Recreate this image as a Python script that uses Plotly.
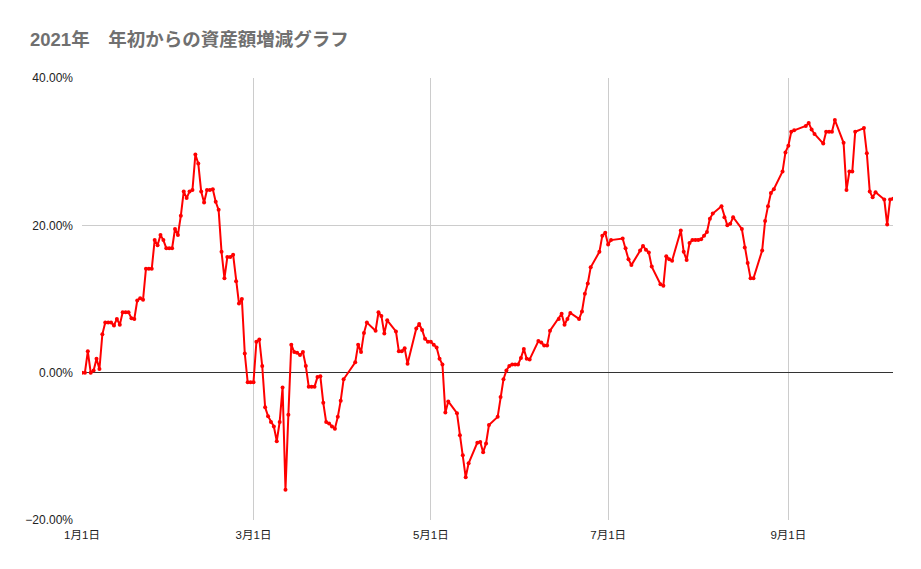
import pandas as pd
import plotly.graph_objects as go

# day offsets from 2021-01-01 and asset change (%)
DAYS = [
    0, 1, 2, 3, 4, 5, 6, 7, 8, 9, 10, 11, 12, 13, 14, 15, 16, 17, 18, 19,
    20, 21, 22, 23, 24, 25, 26, 27, 28, 29, 30, 31, 32, 33, 34, 35, 36, 37, 38, 39,
    40, 41, 42, 43, 44, 45, 46, 47, 48, 49, 50, 51, 52, 53, 54, 55, 56, 57, 58, 59,
    60, 61, 62, 63, 64, 65, 66, 67, 68, 69, 70, 71, 72, 73, 74, 75, 76, 77, 78, 79,
    80, 81, 82, 83, 84, 85, 86, 87, 88, 89, 90, 94, 95, 96, 97, 98, 101, 102, 103, 104,
    105, 108, 109, 110, 111, 112, 115, 116, 117, 118, 119, 120, 121, 122, 123, 124, 125, 126, 129, 130,
    131, 132, 133, 136, 137, 138, 139, 140, 143, 144, 145, 146, 147, 148, 149, 150, 151, 152, 153, 154,
    157, 158, 159, 160, 161, 164, 165, 166, 167, 168, 171, 172, 173, 174, 175, 178, 179, 180, 181, 182,
    186, 187, 188, 189, 192, 193, 194, 195, 196, 199, 200, 201, 202, 203, 206, 207, 208, 209, 210, 211,
    212, 213, 214, 215, 216, 217, 220, 221, 222, 223, 224, 227, 228, 229, 230, 231, 234, 235, 236, 237,
    238, 241, 242, 243, 244, 245, 249, 250, 251, 252, 255, 256, 257, 258, 259, 262, 263, 264, 265, 266,
    269, 270, 271, 272, 273, 276, 277, 278, 279,
]
CHANGE_PCT = [
    0.0, 0.0, 2.9, 0.0, 0.3, 1.9, 0.5, 5.2, 6.8, 6.8, 6.8, 6.4, 7.3, 6.5, 8.2, 8.2, 8.2, 7.4, 7.3, 9.8,
    10.1, 9.9, 14.1, 14.1, 14.1, 18.0, 17.3, 18.7, 18.0, 16.9, 16.9, 16.9, 19.5, 18.7, 21.3, 24.6, 23.7, 24.6, 24.8, 29.6,
    28.4, 24.6, 23.1, 24.8, 24.8, 24.9, 23.2, 22.1, 16.4, 12.8, 15.7, 15.7, 16.0, 12.4, 9.4, 10.0, 2.6, -1.3, -1.3, -1.3,
    4.2, 4.5, 0.9, -4.7, -5.9, -6.7, -7.3, -9.3, -6.7, -2.0, -15.9, -5.7, 3.8, 2.8, 2.7, 2.4, 2.8, 0.9, -1.9, -1.9,
    -1.9, -0.6, -0.5, -4.1, -6.7, -6.9, -7.3, -7.6, -6.0, -3.8, -0.9, 1.4, 3.8, 2.8, 5.4, 6.8, 5.7, 8.2, 7.7, 5.3,
    7.1, 5.6, 2.9, 2.9, 3.3, 1.2, 6.0, 6.6, 5.8, 4.6, 4.2, 4.2, 3.8, 3.4, 1.9, 1.1, -5.4, -3.9, -5.5, -8.5,
    -11.2, -14.2, -12.3, -9.5, -9.4, -10.8, -9.6, -7.1, -6.0, -3.3, -0.9, 0.3, 0.9, 1.1, 1.1, 1.1, 2.0, 3.2, 1.9, 1.8,
    4.3, 4.1, 3.7, 3.7, 5.7, 7.3, 8.0, 6.5, 7.3, 8.1, 7.3, 8.3, 10.7, 12.1, 14.3, 16.4, 18.6, 19.0, 17.4, 18.0,
    18.2, 16.9, 15.4, 14.6, 16.6, 17.2, 16.7, 16.3, 14.4, 12.0, 11.8, 15.8, 15.4, 15.2, 19.3, 16.4, 15.3, 17.6, 18.0, 18.0,
    18.0, 18.1, 18.6, 19.1, 20.9, 21.6, 22.6, 21.1, 20.0, 20.2, 21.1, 19.5, 17.0, 14.9, 12.8, 12.8, 16.6, 20.6, 22.6, 24.4,
    24.9, 27.3, 29.9, 30.8, 32.7, 32.9, 33.5, 33.9, 33.0, 32.4, 31.1, 32.7, 32.7, 32.7, 34.3, 31.2, 24.8, 27.3, 27.3, 32.7,
    33.2, 29.8, 24.6, 23.8, 24.5, 23.5, 20.1, 23.5, 23.6,
]
TICK_DATES = ["2021-01-01", "2021-03-01", "2021-05-01", "2021-07-01", "2021-09-01"]
TICK_LABELS = ["1月1日", "3月1日", "5月1日", "7月1日", "9月1日"]
Y_TICKS = [-0.2, 0.0, 0.2, 0.4]

dates = pd.Timestamp("2021-01-01") + pd.to_timedelta(DAYS, unit="D")
values = [v / 100 for v in CHANGE_PCT]

FONT = "Liberation Sans, Arial, 'Noto Sans CJK JP', sans-serif"

# page body has an 8px margin, so the figure is sized to fit inside it
W, H = 905, 553

fig = go.Figure()
fig.add_trace(go.Scatter(
    x=dates,
    y=values,
    mode="lines+markers",
    line=dict(color="#ff0000", width=2),
    marker=dict(color="#ff0000", size=4),
    showlegend=False,
))

fig.update_layout(
    width=W,
    height=H,
    paper_bgcolor="white",
    plot_bgcolor="white",
    font=dict(family=FONT, size=12, color="#222222"),
    title=dict(
        text="<b>2021年　年初からの資産額増減グラフ</b>",
        font=dict(family="Liberation Sans, 'Noto Sans CJK JP', sans-serif", size=18.5, color="#707070"),
        x=22 / W,
        xanchor="left",
        y=1 - 32 / H,
        yanchor="middle",
    ),
    margin=dict(l=74, r=20, t=70, b=41),
    xaxis=dict(
        type="date",
        range=["2021-01-01", "2021-10-07"],
        tickvals=TICK_DATES,
        ticktext=TICK_LABELS,
        showgrid=True,
        gridcolor="#cccccc",
        gridwidth=1,
        showline=False,
        zeroline=False,
        ticks="",
        ticklabelstandoff=6,
        tickfont=dict(size=11.5, color="#222222"),
    ),
    yaxis=dict(
        range=[-0.2, 0.4],
        tickvals=Y_TICKS,
        tickformat=".2%",
        showgrid=True,
        gridcolor="#cccccc",
        gridwidth=1,
        zeroline=True,
        zerolinecolor="#333333",
        zerolinewidth=1,
        showline=False,
        ticks="",
        ticklabelstandoff=8,
        tickfont=dict(size=12, color="#222222"),
    ),
)

fig.write_html("out.html")
